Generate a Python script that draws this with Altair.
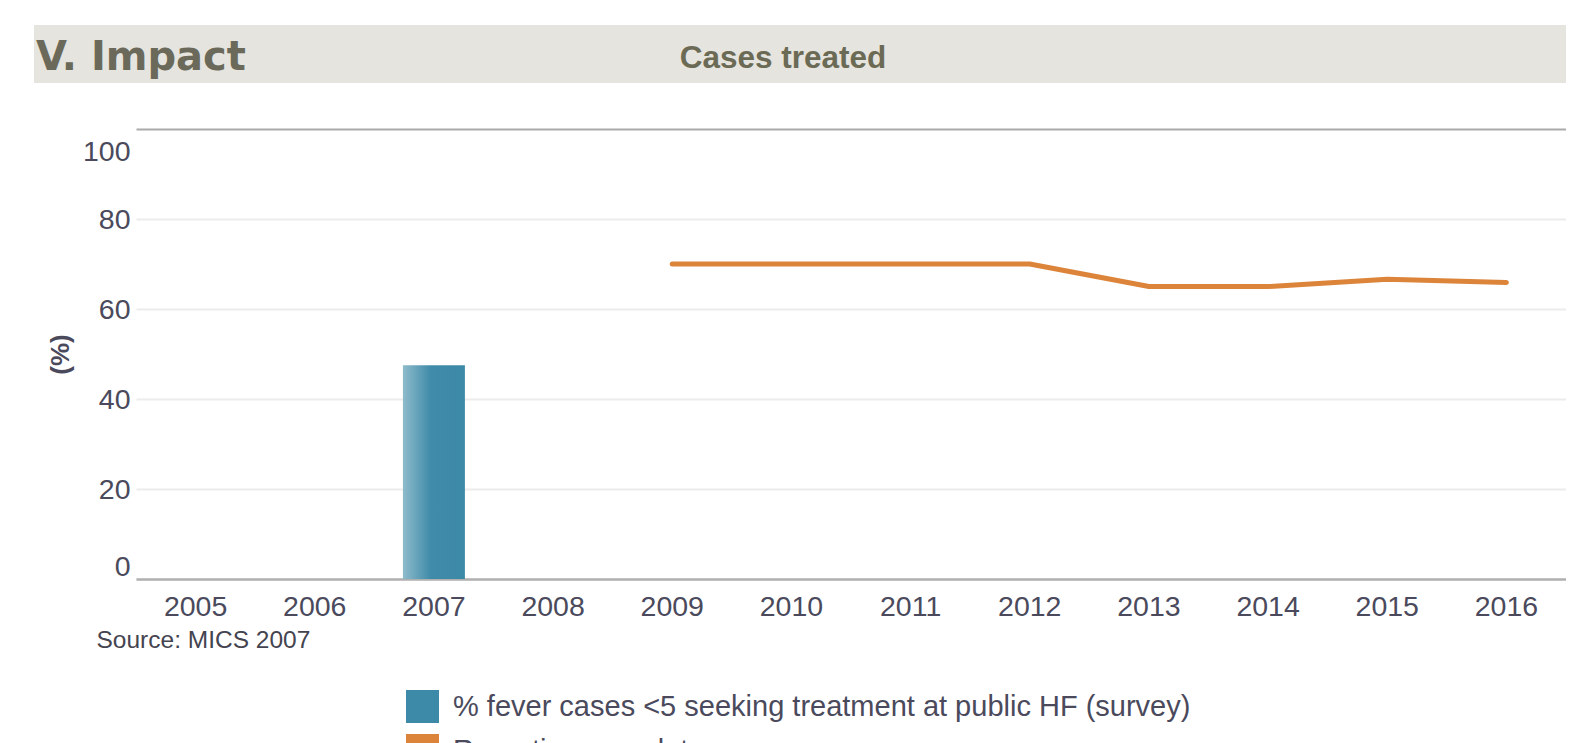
import altair as alt
import pandas as pd

years = [str(y) for y in range(2005, 2017)]
bar_years = ["2007"]
bar_values = [47.5]
line_years = ["2009", "2010", "2011", "2012", "2013", "2014", "2015", "2016"]
line_values = [70, 70, 70, 70, 65, 65, 66.6, 65.9]
series = ["% fever cases <5 seeking treatment at public HF (survey)", "Reporting completeness"]
series_colors = ["#3d89a8", "#dc843a"]

FONT = "Liberation Sans"
TXT = "#4a4a5c"
W, H = 1430, 450

bar_df = pd.DataFrame({"year": bar_years, "value": bar_values})
line_df = pd.DataFrame({"year": line_years, "value": line_values})
leg_df = pd.DataFrame({"series": series})
hdr_df = pd.DataFrame({"k": [0]})

xscale = alt.Scale(domain=years, paddingInner=0.48, paddingOuter=0.24)
yscale = alt.Scale(domain=[0, 100])

xenc = alt.X("year:O", scale=xscale, sort=years,
             axis=alt.Axis(title="Source: MICS 2007", titleX=-40, titleY=61,
                           titleAlign="left", titleAnchor="start", titleBaseline="middle",
                           titleFont=FONT, titleFontSize=24.5, titleFontWeight="normal",
                           titleColor="#444450",
                           labelAngle=0, labelFont=FONT, labelFontSize=28.5, labelColor=TXT,
                           labelPadding=13, ticks=False, domainColor="#b0b0b0",
                           domainWidth=2.5, grid=False))
yenc = alt.Y("value:Q", scale=yscale,
             axis=alt.Axis(title="(%)", values=[0, 20, 40, 60, 80, 100],
                           labelFont=FONT, labelFontSize=28.5, labelColor=TXT,
                           labelFlush=True, labelFlushOffset=2,
                           labelOffset=alt.condition("datum.value == 100", alt.value(10), alt.value(0)),
                           labelPadding=6, ticks=False, domain=False,
                           titleFont=FONT, titleFontSize=26, titleFontWeight="bold",
                           titleColor=TXT, titlePadding=9,
                           grid=True, gridWidth=2,
                           gridColor=alt.condition("datum.value == 100", alt.value("#aaaaaa"), alt.value("#ececec"))))

gradient = alt.LinearGradient(
    gradient="linear", x1=0, x2=1, y1=0, y2=0,
    stops=[alt.GradientStop(offset=0, color="#8ebbcb"),
           alt.GradientStop(offset=0.45, color="#3f8ba9"),
           alt.GradientStop(offset=1, color="#3c89a7")])

header = alt.Chart(hdr_df).mark_rect(color="#e5e4df").encode(
    x=alt.value(-102), x2=alt.value(1440), y=alt.value(-104), y2=alt.value(-46))
h1 = alt.Chart(hdr_df).mark_text(text="V. Impact", font="DejaVu Sans", fontSize=40,
                                 fontWeight="bold", color="#6b6a5a", align="left",
                                 baseline="alphabetic").encode(x=alt.value(-100), y=alt.value(-59))
h2 = alt.Chart(hdr_df).mark_text(text="Cases treated", font=FONT, fontSize=31.5,
                                 fontWeight="bold", color="#6b6a55", align="center",
                                 baseline="alphabetic").encode(x=alt.value(647), y=alt.value(-61))

bars = alt.Chart(bar_df).mark_bar(color=gradient).encode(x=xenc, y=yenc)
line = alt.Chart(line_df).mark_line(color=series_colors[1], strokeWidth=5,
                                    strokeCap="round", strokeJoin="round").encode(x=xenc, y=yenc)

legend = alt.Chart(leg_df).transform_filter("false").mark_square().encode(
    color=alt.Color("series:N", sort=series,
                    scale=alt.Scale(domain=series, range=series_colors),
                    legend=alt.Legend(title=None, orient="none", legendX=270, legendY=561,
                                      symbolType="square", symbolSize=1089,
                                      symbolStrokeWidth=0, symbolOpacity=1,
                                      labelFont=FONT, labelFontSize=29, labelColor=TXT,
                                      labelOffset=14, labelLimit=1000, rowPadding=11)))

chart = alt.layer(header, h1, h2, bars, line, legend).properties(
    width=W, height=H, autosize="none",
    padding={"left": 128, "top": 121, "right": 0, "bottom": 200}
).configure_view(stroke=None)

chart.save("out.html", embed_options={"renderer": "svg", "actions": False})
